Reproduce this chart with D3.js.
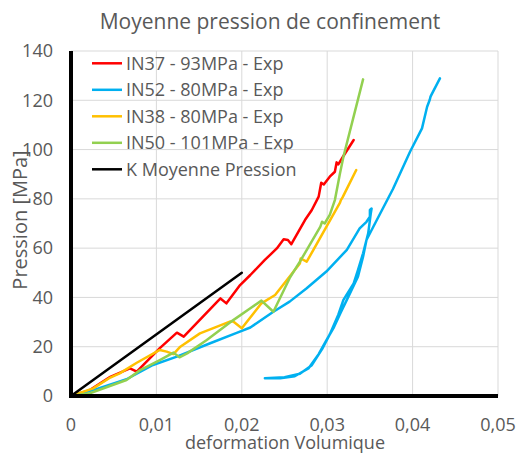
<!DOCTYPE html>
<html><head><meta charset="utf-8">
<script src="https://cdn.jsdelivr.net/npm/d3@7/dist/d3.min.js"></script>
<style>body{margin:0;background:#fff}svg{display:block}text{font-family:"Open Sans",sans-serif;fill:#595959}</style>
</head><body>
<script>
const title = "Moyenne pression de confinement";
const xTitle = "deformation Volumique";
const yTitle = "Pression [MPa]";
const xTicks = [0, 0.01, 0.02, 0.03, 0.04, 0.05];
const xTickLabels = ["0", "0,01", "0,02", "0,03", "0,04", "0,05"];
const yTicks = [0, 20, 40, 60, 80, 100, 120, 140];
const seriesNames = ["IN37 - 93MPa - Exp", "IN52 - 80MPa - Exp", "IN38 - 80MPa - Exp", "IN50 - 101MPa - Exp", "K Moyenne Pression"];
const seriesColors = ["#ff0000", "#00b0f0", "#ffc000", "#92d050", "#000000"];

const in37 = [[0,0],[0.0022,2.4],[0.0046,7.8],[0.0069,11.2],[0.0077,9.9],[0.0104,19.4],[0.0124,25.7],[0.0132,24.1],[0.0175,39.6],[0.0182,37.6],[0.0198,45.0],[0.0210,49.1],[0.0227,55.2],[0.0241,59.9],[0.0249,63.6],[0.0254,63.3],[0.0258,61.6],[0.0274,71.4],[0.0282,75.5],[0.0290,80.9],[0.0293,86.5],[0.0296,85.8],[0.0303,89.0],[0.0309,91.0],[0.0311,94.8],[0.0313,94.0],[0.0319,97.4],[0.0331,103.9]];
const in52 = [[0,0],[0.0026,2.4],[0.0065,6.8],[0.0096,12.6],[0.0124,16.0],[0.0163,21.4],[0.0194,25.6],[0.0210,27.8],[0.0237,34.2],[0.0256,38.3],[0.0276,43.7],[0.0299,50.5],[0.0323,59.3],[0.0338,68.0],[0.0346,70.7],[0.0350,72.8],[0.0350,75.5],[0.0352,76.1],[0.0351,74.0],[0.0348,66.0],[0.0342,57.9],[0.0336,51.1],[0.0331,45.7],[0.0319,39.0],[0.0313,33.0],[0.0303,25.0],[0.0294,19.0],[0.0282,12.5],[0.0268,9.0],[0.0250,7.6],[0.0227,7.2],[0.0245,7.2],[0.0262,8.0],[0.0278,11.2],[0.0290,17.0],[0.0298,22.0],[0.0308,28.0],[0.0316,34.0],[0.0323,39.0],[0.0336,48.4],[0.0342,56.5],[0.0346,63.3],[0.0354,68.7],[0.0377,84.0],[0.0397,99.1],[0.0411,108.6],[0.0417,117.4],[0.0420,120.1],[0.0421,121.5],[0.0422,122.2],[0.0432,128.9]];
const in38 = [[0,0],[0.0026,3.1],[0.0046,7.5],[0.0057,9.2],[0.0077,13.5],[0.0104,18.7],[0.0112,18.0],[0.0120,17.0],[0.0128,20.0],[0.0151,25.4],[0.0186,30.2],[0.0190,30.2],[0.0200,27.5],[0.0223,37.6],[0.0239,41.0],[0.0268,53.8],[0.0269,55.8],[0.0276,54.5],[0.0284,59.4],[0.0315,78.5],[0.0316,79.5],[0.0318,80.6],[0.0334,91.7]];
const in50 = [[0,0],[0.0022,1.1],[0.0065,6.5],[0.0081,10.5],[0.0104,14.6],[0.0120,17.6],[0.0127,15.7],[0.0136,17.3],[0.0159,22.7],[0.0190,30.8],[0.0210,35.6],[0.0223,38.7],[0.0237,34.2],[0.0256,47.8],[0.0268,54.5],[0.0292,68.7],[0.0294,70.7],[0.0297,70.0],[0.0303,73.5],[0.0309,79.5],[0.0315,90.4],[0.0319,97.1],[0.0342,128.5]];
const kLine = [[0,0],[0.02,50]];
const allSeries = [in37, in52, in38, in50, kLine];

const W = 524, H = 466;
const svg = d3.select("body").append("svg").attr("width", W).attr("height", H);
const x = d3.scaleLinear().domain([0, 0.05]).range([71, 498]);
const y = d3.scaleLinear().domain([0, 140]).range([396, 51]);

// gridlines
svg.append("g").selectAll("line.h").data(yTicks.slice(1)).join("line")
  .attr("x1", x(0)).attr("x2", x(0.05)).attr("y1", d => y(d)).attr("y2", d => y(d))
  .attr("stroke", "#d9d9d9").attr("stroke-width", 1);
svg.append("g").selectAll("line.v").data(xTicks.slice(1)).join("line")
  .attr("x1", d => x(d)).attr("x2", d => x(d)).attr("y1", y(0)).attr("y2", y(140))
  .attr("stroke", "#d9d9d9").attr("stroke-width", 1);

// series
const line = d3.line().x(d => x(d[0])).y(d => y(d[1]));
svg.append("g").selectAll("path").data(allSeries).join("path")
  .attr("d", line).attr("fill", "none")
  .attr("stroke", (d, i) => seriesColors[i]).attr("stroke-width", 2.5)
  .attr("stroke-linejoin", "round").attr("stroke-linecap", "round");

// axes lines
svg.append("line").attr("x1", x(0)).attr("x2", x(0)).attr("y1", y(0) + 2).attr("y2", y(140))
  .attr("stroke", "#000").attr("stroke-width", 4);
svg.append("line").attr("x1", x(0) - 2).attr("x2", x(0.05)).attr("y1", y(0)).attr("y2", y(0))
  .attr("stroke", "#000").attr("stroke-width", 4);

// tick labels
svg.append("g").selectAll("text").data(yTicks).join("text")
  .attr("x", 53).attr("y", d => y(d)).attr("dy", "0.35em")
  .attr("text-anchor", "end").attr("font-size", 18).text(d => d);
svg.append("g").selectAll("text").data(xTicks).join("text")
  .attr("x", d => x(d)).attr("y", 431)
  .attr("text-anchor", "middle").attr("font-size", 18).text((d, i) => xTickLabels[i]);

// titles
svg.append("text").attr("x", 270).attr("y", 29).attr("text-anchor", "middle")
  .attr("font-size", 21).text(title);
svg.append("text").attr("x", 285).attr("y", 449).attr("text-anchor", "middle")
  .attr("font-size", 18).text(xTitle);
svg.append("text").attr("transform", "translate(27,220) rotate(-90)").attr("text-anchor", "middle")
  .attr("font-size", 20).text(yTitle);

// legend
const lg = svg.append("g").selectAll("g").data(seriesNames).join("g")
  .attr("transform", (d, i) => `translate(0,${63.3 + i * 26.5})`);
lg.append("line").attr("x1", 92).attr("x2", 122).attr("y1", 0).attr("y2", 0)
  .attr("stroke", (d, i) => seriesColors[i]).attr("stroke-width", 2.5);
lg.append("text").attr("x", 126).attr("y", 0).attr("dy", "0.35em")
  .attr("font-size", 18).text(d => d);
</script>
</body></html>
